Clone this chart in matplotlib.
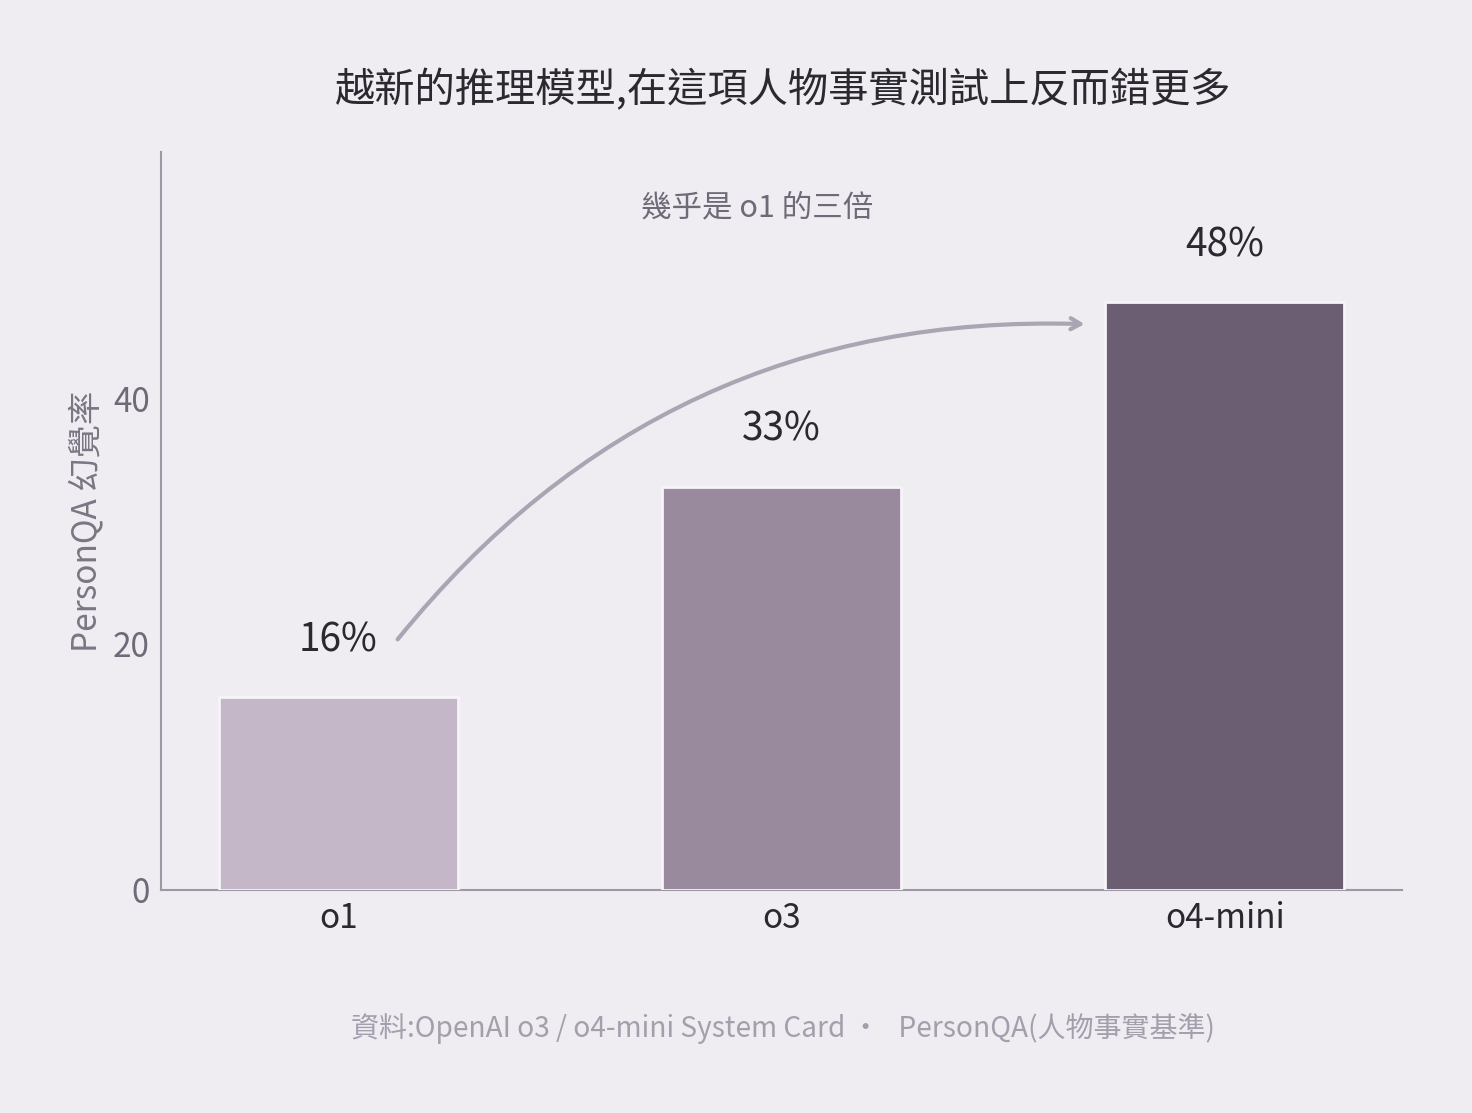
import matplotlib.pyplot as plt

# fonts: CJK first, fallback for anything missing
plt.rcParams['font.family'] = ['Noto Sans CJK TC', 'DejaVu Sans']

# data
models = ['o1', 'o3', 'o4-mini']
rates = [15.7, 32.8, 47.8]
labels = ['16%', '33%', '48%']
bar_colors = ['#C4B7C8', '#998A9D', '#6C5E72']
yticks = [0, 20, 40]

title = '越新的推理模型,在這項人物事實測試上反而錯更多'
note = '幾乎是 o1 的三倍'
ylabel = 'PersonQA 幻覺率'
source = '資料:OpenAI o3 / o4-mini System Card ·   PersonQA(人物事實基準)'

bg = '#EFEDF2'
axis_col = '#9C98A6'

fig = plt.figure(figsize=(14.72, 11.13), dpi=100, facecolor=bg)
ax = fig.add_axes([0.1094, 0.2004, 0.843, 0.663], facecolor=bg)

x = range(len(models))
ax.bar(x, rates, width=0.54, color=bar_colors, edgecolor='#F6F4F8', linewidth=2, zorder=3)

for i, (v, lab) in enumerate(zip(rates, labels)):
    ax.text(i, v + 4.6, lab, ha='center', va='center', fontsize=28, color='#2B2930')

ax.set_xlim(-0.4, 2.4)
ax.set_ylim(0, 60)
ax.set_xticks(list(x))
ax.set_xticklabels(models, fontsize=24, color='#2B2930')
ax.set_yticks(yticks)
ax.set_yticklabels([str(t) for t in yticks], fontsize=24, color='#6E6A78')
ax.tick_params(axis='both', length=0)
ax.tick_params(axis='x', pad=8)
ax.tick_params(axis='y', pad=8)

for s in ['top', 'right']:
    ax.spines[s].set_visible(False)
for s in ['left', 'bottom']:
    ax.spines[s].set_color(axis_col)
    ax.spines[s].set_linewidth(1.5)

ax.set_ylabel(ylabel, fontsize=24, color='#7A7684', labelpad=6)

# curved arrow o1 -> o4-mini
ax.annotate('', xy=(1.69, 46.0), xytext=(0.13, 20.2),
            arrowprops=dict(arrowstyle='->,head_length=0.7,head_width=0.4', color='#A9A5B3',
                            lw=3, connectionstyle='arc3,rad=-0.25'), zorder=4)
ax.text(0.945, 55.5, note, ha='center', va='center', fontsize=22, color='#6E6A78')

fig.text(0.532, 0.919, title, ha='center', va='center', fontsize=29, color='#2B2930', weight='medium')
fig.text(0.532, 0.076, source, ha='center', va='center', fontsize=20.2, color='#A39FAD')

fig.savefig('out.png', dpi=100, facecolor=bg)
